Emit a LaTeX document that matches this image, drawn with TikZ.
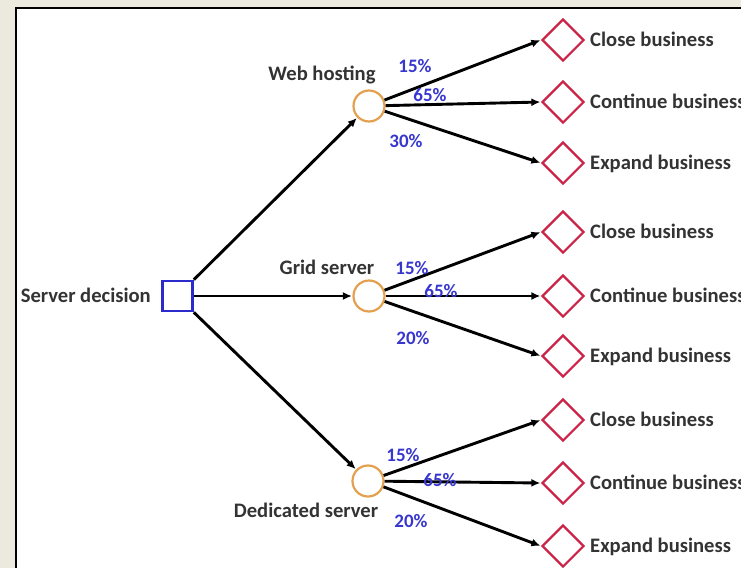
\documentclass[tikz,border=0pt]{standalone}
\usepackage{fontspec}
\setmainfont{Carlito}
\usetikzlibrary{shapes.geometric,arrows.meta}
\definecolor{pagebeige}{HTML}{ECE9DF}
\definecolor{decblue}{HTML}{2B2BCC}
\definecolor{chanceorange}{HTML}{E3A04E}
\definecolor{endred}{HTML}{CC2448}
\definecolor{probblue}{HTML}{3737CF}
\definecolor{txtgray}{HTML}{333333}
\tikzset{
  decision/.style={draw=decblue, line width=2.6pt, fill=white, minimum size=30pt, inner sep=0pt},
  chance/.style={circle, draw=chanceorange, line width=2.2pt, fill=white, minimum size=31pt, inner sep=0pt},
  terminal/.style={diamond, aspect=1, draw=endred, line width=2.2pt, fill=white, minimum size=42pt, inner sep=0pt},
  lbl/.style={font=\bfseries\fontsize{20.6}{22}\selectfont, text=txtgray, inner sep=0pt, text height=13pt, text depth=0pt},
  prob/.style={font=\bfseries\fontsize{19}{20}\selectfont, text=probblue, inner sep=0pt, text height=12pt, text depth=0pt},
  branch/.style={line width=2.9pt, -{Latex[length=9pt,width=8pt]}, shorten >=0.5pt},
}
\begin{document}
\begin{tikzpicture}[x=1pt,y=-1pt]
\useasboundingbox (0,0) rectangle (741,568);
\clip (0,0) rectangle (741,568);
% window background and frame
\fill[pagebeige] (0,0) rectangle (741,568);
\fill[white] (17,9) rectangle (741,568);
\draw[line width=2pt] (16,568) -- (16,8) -- (741,8);

% decision node
\node[decision] (sd) at (177.5,296) {};
\node[lbl, anchor=east] (sdl) at (151,296) {Server decision};

% chance nodes
\node[chance] (web) at (369,106) {};
\node[chance] (grid) at (369,296) {};
\node[chance] (ded) at (368,481) {};
\node[lbl] (webl) at (322,74) {Web hosting};
\node[lbl] (gridl) at (327,268) {Grid server};
\node[lbl] (dedl) at (306,511) {Dedicated server};

% terminal nodes
\foreach \n/\y/\t in {w1/40/Close business, w2/102/Continue business, w3/163/Expand business,
                       g1/232/Close business, g2/296/Continue business, g3/356/Expand business,
                       d1/420/Close business, d2/483/Continue business, d3/546/Expand business}{
  \node[terminal] (\n) at (563,\y) {};
  \node[lbl, anchor=west] (\n l) at (590,\y) {\t};
}

% decision branches
\draw[branch] (sd.north east) -- (web);
\draw[branch] (sd.east) -- (grid);
\draw[branch] (sd.south east) -- (ded);

% chance branches
\foreach \c/\a/\b/\d in {web/w1/w2/w3, grid/g1/g2/g3, ded/d1/d2/d3}{
  \draw[branch] (\c) -- (\a.west);
  \draw[branch] (\c) -- (\b.west);
  \draw[branch] (\c) -- (\d.west);
}

% probabilities
\node[prob] (pw1) at (415,66) {15\%};
\node[prob] (pw2) at (430,95) {65\%};
\node[prob] (pw3) at (406,141) {30\%};
\node[prob] (pg1) at (412,268) {15\%};
\node[prob] (pg2) at (441,291) {65\%};
\node[prob] (pg3) at (413,338) {20\%};
\node[prob] (pd1) at (403,455) {15\%};
\node[prob] (pd2) at (440,480) {65\%};
\node[prob] (pd3) at (411,521) {20\%};
\end{tikzpicture}
\end{document}
